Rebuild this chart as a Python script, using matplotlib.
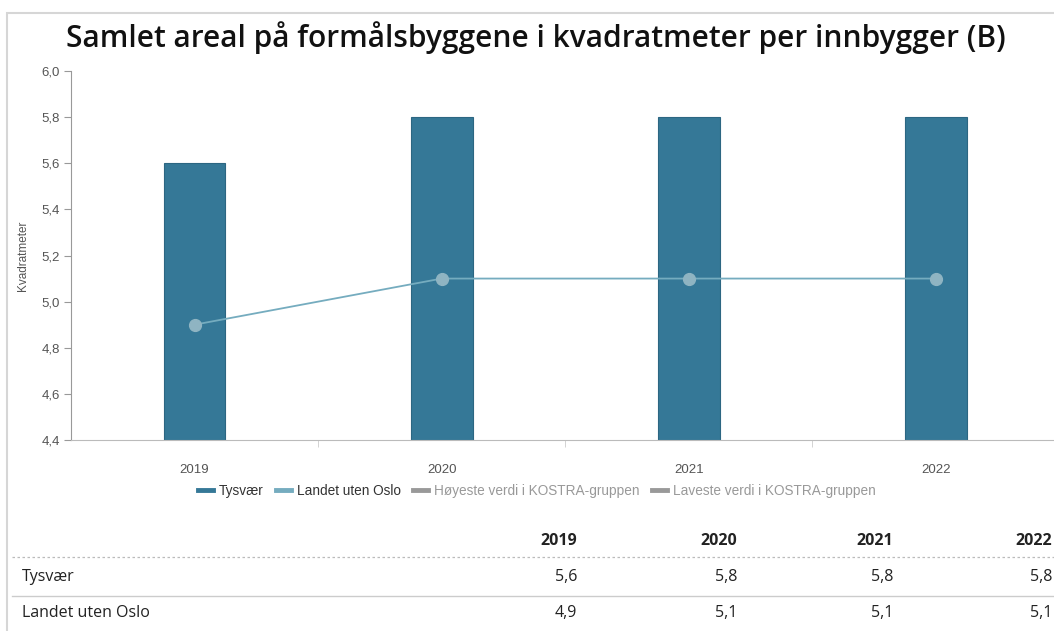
import matplotlib.pyplot as plt
from matplotlib.lines import Line2D
from matplotlib.patches import Rectangle

years = ["2019", "2020", "2021", "2022"]
tysvaer = [5.6, 5.8, 5.8, 5.8]
landet = [4.9, 5.1, 5.1, 5.1]
yticks = [4.4, 4.6, 4.8, 5.0, 5.2, 5.4, 5.6, 5.8, 6.0]

W, H = 1054, 631
fig = plt.figure(figsize=(W / 100, H / 100), dpi=100)

def fx(px):
    return px / W

def fy(py):
    return 1 - py / H

# outer frame of the card
fig.patches.append(Rectangle((fx(7), fy(640)), fx(1100), fy(13) - fy(640),
                             transform=fig.transFigure, fill=False,
                             edgecolor="#d6d6d6", linewidth=1.5))

fig.text(fx(536), fy(38), "Samlet areal på formålsbyggene i kvadratmeter per innbygger (B)",
         ha="center", va="center", fontsize=21.5, family="Open Sans",
         fontweight="semibold", color="#111111")

ax = fig.add_axes([fx(71), fy(440), fx(1059.5) - fx(71), fy(71) - fy(440)])
x = list(range(len(years)))
ax.bar(x, [v - 4.4 for v in tysvaer], bottom=4.4, width=0.25,
       color="#357897", edgecolor="#2c6682", linewidth=0.8, zorder=2)
ax.plot(x, landet, color="#75acbf", linewidth=1.3, zorder=3)
ax.plot(x, landet, linestyle="none", marker="o", markersize=8.5,
        color="#8fb4c2", zorder=4)

ax.set_xlim(-0.5, len(years) - 0.5)
ax.set_ylim(4.4, 6.0)
ax.set_yticks(yticks)
ax.set_yticklabels([f"{v:.1f}".replace(".", ",") for v in yticks])
ax.set_xticks(x)
ax.set_xticklabels(years)
ax.set_xticks([i + 0.5 for i in x[:-1]], minor=True)

for side in ["top", "right"]:
    ax.spines[side].set_visible(False)
ax.spines["left"].set_color("#999999")
ax.spines["bottom"].set_color("#bbbbbb")
ax.tick_params(axis="y", length=5, color="#999999", labelcolor="#555555",
               labelsize=9.5, pad=3)
ax.tick_params(axis="x", which="major", length=0, labelcolor="#555555",
               labelsize=9.5, pad=17)
ax.tick_params(axis="x", which="minor", length=5, color="#cccccc")
for lab in ax.get_xticklabels() + ax.get_yticklabels():
    lab.set_family("Liberation Sans")
ax.set_ylabel("Kvadratmeter", fontsize=8.5, color="#555555",
              family="Liberation Sans", labelpad=9)

# legend
handles = [
    Line2D([], [], color="#357897", linewidth=3.5),
    Line2D([], [], color="#75acbf", linewidth=3.5),
    Line2D([], [], color="#999999", linewidth=3.5),
    Line2D([], [], color="#999999", linewidth=3.5),
]
labels = ["Tysvær", "Landet uten Oslo", "Høyeste verdi i KOSTRA-gruppen",
          "Laveste verdi i KOSTRA-gruppen"]
leg = fig.legend(handles, labels, loc="center", bbox_to_anchor=(fx(537), fy(491)),
                 ncol=4, frameon=False, handlelength=1.1, handletextpad=0.45,
                 columnspacing=0.9, prop={"family": "Liberation Sans", "size": 9.8})
for i, t in enumerate(leg.get_texts()):
    t.set_color("#333333" if i < 2 else "#999999")

# table below the chart
col_x = [577, 737, 893, 1052]
for cx, yr in zip(col_x, years):
    fig.text(fx(cx), fy(541), yr, ha="right", va="center", fontsize=11.5,
             family="Open Sans", fontweight="bold", color="#222222")
fig.add_artist(Line2D([fx(12), fx(1054)], [fy(557), fy(557)], color="#bbbbbb",
                      linewidth=0.9, linestyle=(0, (2, 2))))
rows = [("Tysvær", tysvaer, 577), ("Landet uten Oslo", landet, 613)]
for name, vals, ry in rows:
    fig.text(fx(22), fy(ry), name, ha="left", va="center", fontsize=11.5,
             family="Open Sans", color="#222222")
    for cx, v in zip(col_x, vals):
        fig.text(fx(cx), fy(ry), f"{v:.1f}".replace(".", ","), ha="right",
                 va="center", fontsize=11.5, family="Open Sans", color="#222222")
fig.add_artist(Line2D([fx(12), fx(1054)], [fy(596), fy(596)], color="#cccccc",
                      linewidth=1.0))

fig.savefig("out.png", dpi=100)
